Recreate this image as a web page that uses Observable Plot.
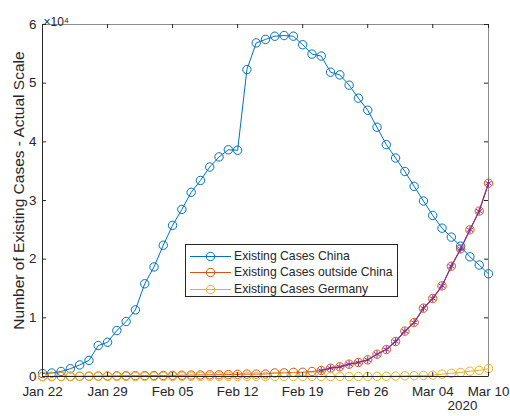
<!DOCTYPE html>
<html><head><meta charset="utf-8">
<script src="https://cdn.jsdelivr.net/npm/d3@7"></script>
<script src="https://cdn.jsdelivr.net/npm/@observablehq/plot@0.6"></script>
<style>
body{margin:0;background:#fff;font-family:"Liberation Sans",Arial,sans-serif}
#wrap{position:relative;width:510px;height:416px}
#legend{position:absolute;left:185px;top:244px;width:213px;height:53px;border:1px solid #262626;background:#fff;box-sizing:border-box;font-size:12.2px;color:#262626}
#legend .row{position:absolute;left:0;height:17px;width:100%}
#legend svg{position:absolute;left:0;top:0}
#legend span{position:absolute;left:48px;top:0;line-height:17px;white-space:nowrap}
</style>
</head><body>
<div id="wrap"></div>
<script>
const startDate = "2020-01-22";
const endDate = "2020-03-10";
const xTickLabels = ["2020-01-22","2020-01-29","2020-02-05","2020-02-12","2020-02-19","2020-02-26","2020-03-04","2020-03-10"];
const yearLabel = "2020";
const yTicks = [0,10000,20000,30000,40000,50000,60000];
const yLabel = "Number of Existing Cases - Actual Scale";
const exponentLabel = "×10⁴";
const seriesNames = ["Existing Cases China","Existing Cases outside China","Existing Cases Germany"];
const colors = ["#0072BD","#D95319","#EDB120"];
const fitColor = "#7E2F8E";

const china = [503,595,858,1325,1970,2737,5277,5834,7835,9375,11357,15806,18677,22374,25763,28479,31395,33415,35707,37426,38640,38564,52314,56865,57457,58000,58115,58009,56551,54957,54621,51873,51409,49658,47441,45398,42490,39526,37242,34944,32414,29912,27450,25284,23757,22219,20404,19002,17500];
const outside = [10,15,25,35,50,60,75,90,105,125,140,150,160,180,200,215,250,260,290,300,330,370,400,410,420,600,620,700,720,850,1020,1420,1650,2100,2390,2840,3800,4600,5970,7730,9200,11650,13300,15450,18800,21750,25000,28200,32950];
const germany = [0,0,0,0,0,1,4,4,4,5,8,10,12,12,12,12,13,13,14,14,16,16,16,16,16,16,16,16,16,16,2,2,2,2,3,15,30,40,65,110,140,180,230,400,550,680,900,1050,1350];
const fitStart = 30;
const fitValues = [1020,1420,1650,2100,2390,2840,3800,4600,5970,7730,9200,11650,13300,15450,18800,21750,25000,28200,32950];

const dates = d3.utcDay.range(new Date(startDate), d3.utcDay.offset(new Date(endDate), 1));
const xTicks = xTickLabels.map(s => new Date(s));
const rowsOf = arr => arr.map((v, i) => ({date: dates[i], value: v}));
const chinaRows = rowsOf(china), outsideRows = rowsOf(outside), germanyRows = rowsOf(germany);
const fitRows = fitValues.map((v, i) => ({date: dates[fitStart + i], value: v}));
const fmt = d3.utcFormat("%b %d");
const axisColor = "#262626";

const chart = Plot.plot({
  width: 510, height: 416,
  marginLeft: 42, marginRight: 22, marginTop: 24, marginBottom: 40,
  style: {fontFamily: "'Liberation Sans', Arial, sans-serif", fontSize: "13.4px", color: axisColor, background: "white", overflow: "visible"},
  x: {type: "utc", domain: [dates[0], dates[dates.length - 1]]},
  y: {domain: [0, 60000]},
  marks: [
    Plot.frame({stroke: "#8c8c8c", strokeWidth: 1}),
    Plot.line(chinaRows, {x: "date", y: "value", stroke: colors[0], strokeWidth: 1}),
    Plot.dot(chinaRows, {x: "date", y: "value", r: 4.2, stroke: colors[0], strokeWidth: 1}),
    Plot.line(outsideRows, {x: "date", y: "value", stroke: colors[1], strokeWidth: 1}),
    Plot.dot(outsideRows, {x: "date", y: "value", r: 4.2, stroke: colors[1], strokeWidth: 1}),
    Plot.line(germanyRows, {x: "date", y: "value", stroke: colors[2], strokeWidth: 1}),
    Plot.dot(germanyRows, {x: "date", y: "value", r: 4.2, stroke: colors[2], strokeWidth: 1}),
    Plot.line(fitRows, {x: "date", y: "value", stroke: fitColor, strokeWidth: 1.2}),
    Plot.dot(fitRows, {x: "date", y: "value", r: 3.3, symbol: "asterisk", stroke: fitColor, strokeWidth: 1}),
    Plot.ruleX(xTicks, {x: d => d, insetTop: 348, stroke: axisColor}),
    Plot.ruleX(xTicks, {x: d => d, insetBottom: 348, stroke: axisColor}),
    Plot.ruleY(yTicks, {y: d => d, insetRight: 442, stroke: axisColor}),
    Plot.ruleY(yTicks, {y: d => d, insetLeft: 442, stroke: axisColor}),
    Plot.ruleY([yTicks[0]], {stroke: axisColor}),
    Plot.ruleX([dates[0]], {stroke: axisColor}),
    Plot.axisX({ticks: xTicks, tickSize: 0, tickPadding: 10, tickFormat: fmt, label: null, fontSize: 13.4}),
    Plot.axisY({ticks: yTicks, tickSize: 0, tickPadding: 6, tickFormat: d => String(d / 1e4), label: null, fontSize: 13.4}),
    Plot.text([yearLabel], {frameAnchor: "bottom-right", textAnchor: "middle", dx: -26, dy: 33, fontSize: 13.4, fill: axisColor}),
    Plot.text([exponentLabel], {frameAnchor: "top-left", textAnchor: "start", dx: 1, dy: -7, fontSize: 12, fill: axisColor}),
    Plot.text([yLabel], {frameAnchor: "left", textAnchor: "middle", rotate: -90, dx: -23, dy: -10, fontSize: 15.5, fill: axisColor})
  ]
});
const wrap = document.getElementById("wrap");
wrap.appendChild(chart);

const legend = document.createElement("div");
legend.id = "legend";
seriesNames.forEach((name, i) => {
  const row = document.createElement("div");
  row.className = "row";
  row.style.top = (2.5 + i * 16.8) + "px";
  row.innerHTML = `<svg width="48" height="17"><line x1="4" x2="45" y1="8.5" y2="8.5" stroke="${colors[i]}" stroke-width="1"/><circle cx="24.5" cy="8.5" r="4.2" fill="none" stroke="${colors[i]}" stroke-width="1"/></svg><span>${name}</span>`;
  legend.appendChild(row);
});
wrap.appendChild(legend);
</script>
</body></html>
